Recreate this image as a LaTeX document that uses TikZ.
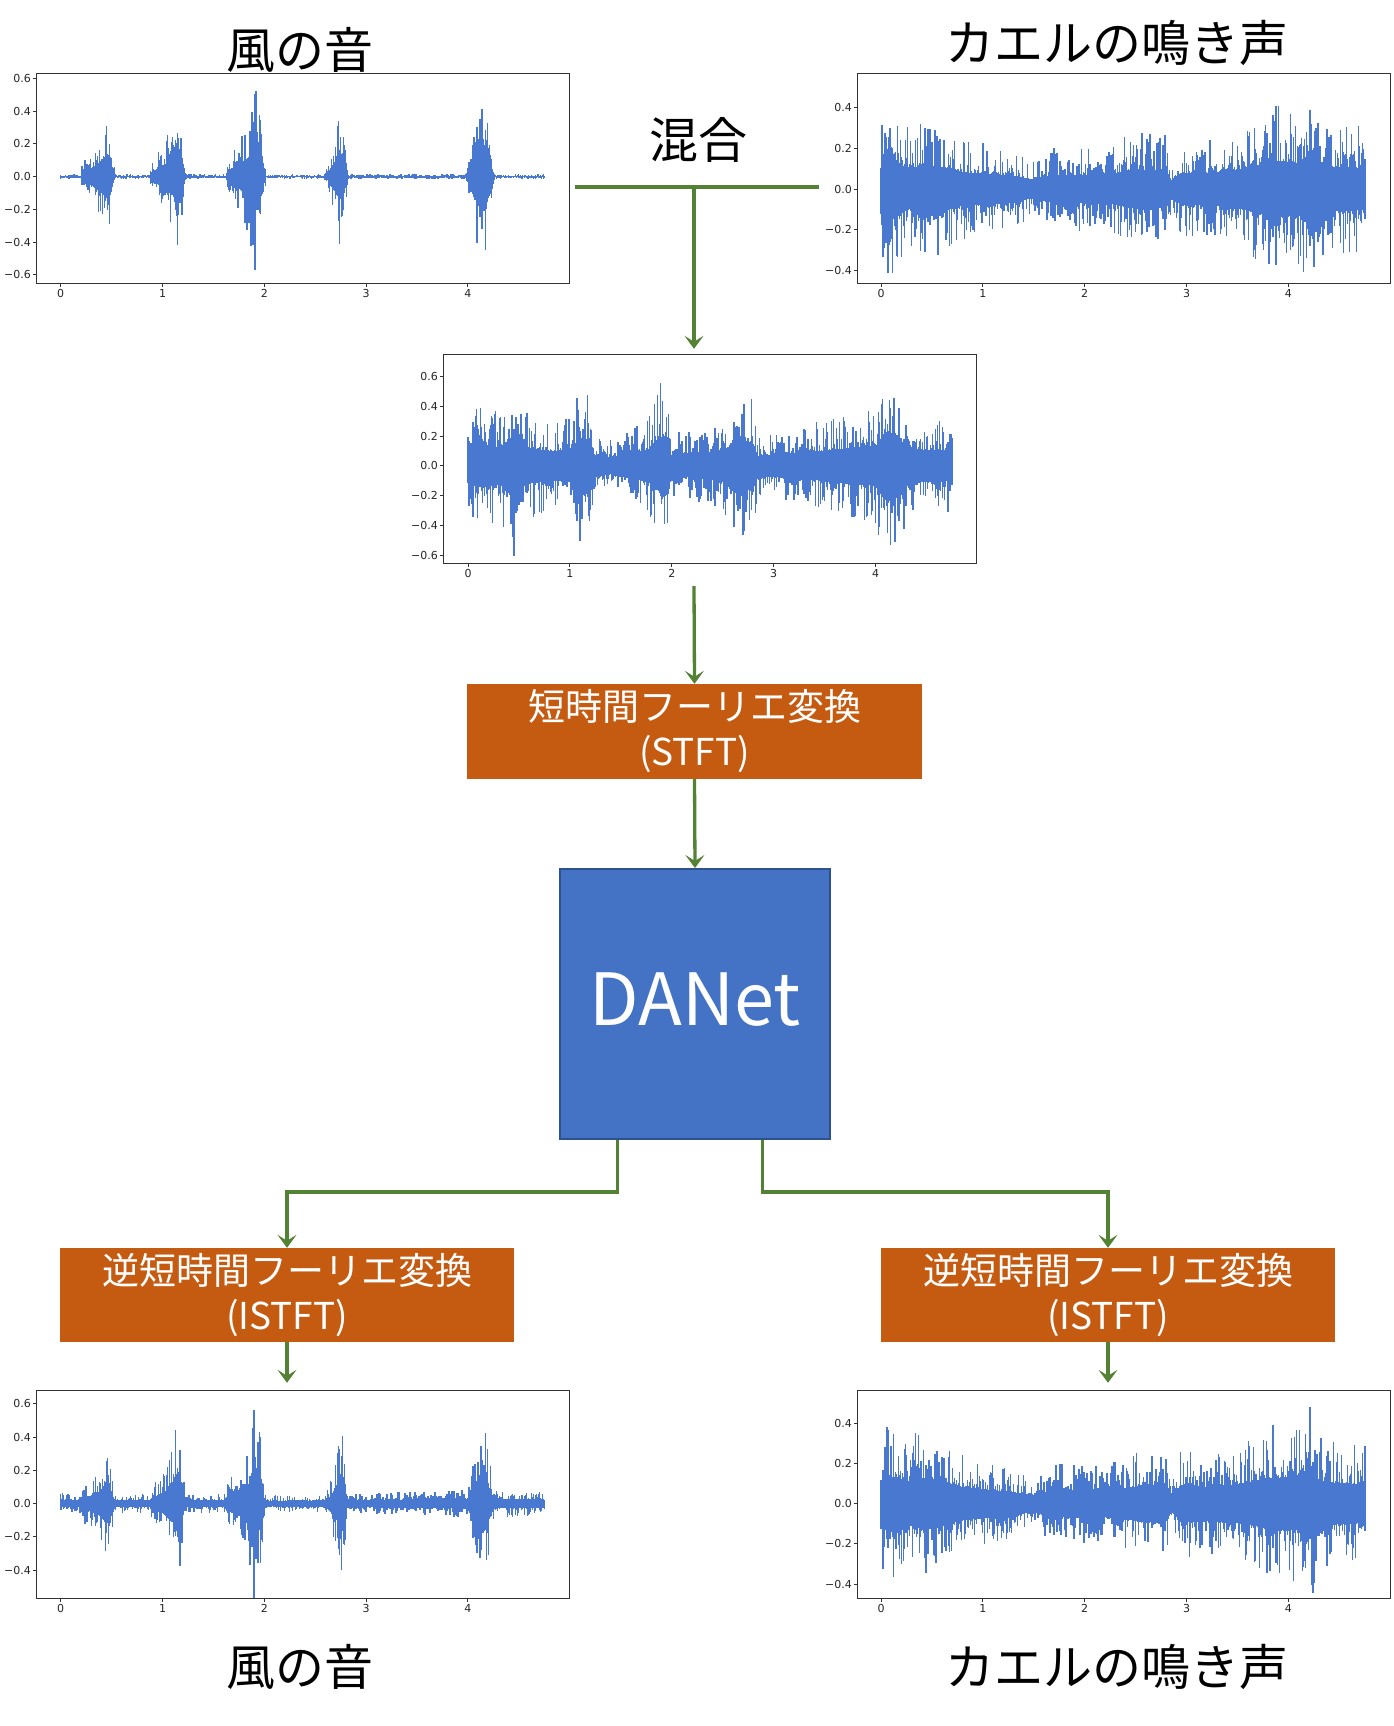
\documentclass[tikz,border=0pt]{standalone}
\usepackage{fontspec}
\newfontfamily\jp{Noto Sans CJK JP}
\newfontfamily\tickfont{DejaVu Sans}
\usetikzlibrary{arrows.meta,calc}
\definecolor{wavec}{HTML}{4878CF}
\definecolor{conncol}{HTML}{548235}
\definecolor{boxorange}{HTML}{C55A11}
\definecolor{netblue}{HTML}{4472C4}
\definecolor{netborder}{HTML}{2F528F}
\definecolor{framecol}{HTML}{333333}
\tikzset{
 wave/.style={draw=wavec,line width=1.4pt},
 frame/.style={draw=framecol,line width=1pt},
 ticklab/.style={font=\tickfont\fontsize{11}{11}\selectfont,text=black!85,inner sep=0pt},
 title/.style={font=\jp\fontsize{49}{49}\selectfont,inner sep=0pt},
 plotbox/.style={inner sep=0pt,draw=none},
 conn/.style={draw=conncol,line width=3.3pt},
 arrow/.style={conn,-{Stealth[length=13pt,width=19pt,inset=6pt,line width=1pt]}},
 procbox/.style={fill=boxorange,text=white,font=\jp\fontsize{37}{45}\selectfont,align=center,minimum width=455pt,minimum height=95pt,inner sep=0pt},
 netbox/.style={fill=netblue,draw=netborder,line width=2pt,text=white,font=\jp\fontsize{72}{72}\selectfont,minimum width=270pt,minimum height=270pt,inner sep=0pt,text depth=10pt}
}
% waveform: #1 x0, #2 y0 (pixel position of data origin), #3 px per x unit, #4 px per y unit, #5 envelope knots t/e, #6 seed
\newcommand\wavedraw[6]{%
 \pgfmathsetseed{#6}%
 \begin{scope}[shift={(#1,#2)},x=#3pt,y=#4pt]
 \foreach \tb/\eb [remember=\tb as \ta (initially 0), remember=\eb as \ea (initially 0)] in {#5}{%
   \pgfmathtruncatemacro\nn{max(1,round((\tb-\ta)*#3))}%
   \foreach \j in {1,...,\nn}{%
     \pgfmathsetmacro\wavT{\ta+\j/\nn*(\tb-\ta)}%
     \pgfmathsetmacro\wavE{1.15*(\ea+\j/\nn*(\eb-\ea))}%
     \pgfmathsetmacro\wavU{\wavE*(0.33+0.67*pow(rnd,2.5))}%
     \pgfmathsetmacro\wavL{\wavE*(0.33+0.67*pow(rnd,2.5))}%
     \draw[wave] (\wavT,-\wavL) -- (\wavT,\wavU);
   }%
 }%
 \end{scope}}
% axes: #1 left #2 top #3 right #4 bottom #5 x0 #6 y0 #7 xs #8 ys #9 yticks v/label
\newcommand\plotaxes[9]{%
 \draw[frame] (#1,#2) rectangle (#3,#4);
 \foreach \k in {0,...,4}{%
   \pgfmathsetmacro\xx{#5+\k*#7}%
   \draw[frame] (\xx,#4) -- ++(0,3.5);
   \node[ticklab,anchor=north] at (\xx,#4+6) {\k};
 }%
 \foreach \v/\vlab in {#9}{%
   \pgfmathsetmacro\yy{#6-\v*#8}%
   \draw[frame] (#1,\yy) -- ++(-3.5,0);
   \node[ticklab,anchor=east] at (#1-5,\yy) {\vlab};
 }%
}
\begin{document}
\begin{tikzpicture}[x=1pt,y=-1pt]
\useasboundingbox[fill=white] (0,0) rectangle (1393,1726);

% ---------- plot A : wind (top left)
\wavedraw{60.7}{176.6}{101.8}{163.8}{0/0.014, 0.2/0.014, 0.21/0.1, 0.3/0.13, 0.38/0.23, 0.45/0.34, 0.48/0.35, 0.52/0.09, 0.54/0.014, 0.87/0.014, 0.9/0.09, 1.0/0.16, 1.1/0.3, 1.13/0.4, 1.17/0.42, 1.22/0.05, 1.24/0.014, 1.62/0.014, 1.64/0.11, 1.75/0.18, 1.85/0.31, 1.9/0.5, 1.93/0.52, 2.0/0.09, 2.02/0.014, 2.58/0.014, 2.62/0.06, 2.7/0.26, 2.74/0.36, 2.77/0.37, 2.82/0.05, 2.84/0.014, 3.98/0.014, 4.02/0.15, 4.1/0.42, 4.13/0.49, 4.17/0.5, 4.25/0.07, 4.27/0.014, 4.75/0.014}{11}
\plotaxes{36}{74}{569}{283}{60.7}{176.6}{101.8}{163.8}{0.6/0.6, 0.4/0.4, 0.2/0.2, 0.0/0.0, -0.2/−0.2, -0.4/−0.4, -0.6/−0.6}
\node[plotbox,minimum width=570pt,minimum height=236pt] (pa) at (290,187) {};

% ---------- plot B : frog (top right)
\wavedraw{881}{189}{101.85}{203}{0/0.27, 0.03/0.36, 0.1/0.37, 0.15/0.37, 0.22/0.3, 0.3/0.25, 0.4/0.33, 0.44/0.34, 0.5/0.28, 0.6/0.29, 0.8/0.22, 1.0/0.2, 1.3/0.17, 1.5/0.12, 1.7/0.18, 2.0/0.18, 2.2/0.17, 2.45/0.25, 2.6/0.25, 2.8/0.24, 2.85/0.12, 2.95/0.21, 3.2/0.21, 3.5/0.25, 3.85/0.36, 3.9/0.36, 4.1/0.34, 4.2/0.45, 4.24/0.45, 4.3/0.3, 4.5/0.28, 4.75/0.27}{23}
\plotaxes{857}{74}{1390}{283}{881}{189}{101.85}{203}{0.4/0.4, 0.2/0.2, 0.0/0.0, -0.2/−0.2, -0.4/−0.4}
\node[plotbox,minimum width=574pt,minimum height=236pt] (pb) at (1106,187) {};

% ---------- plot C : mixture
\wavedraw{468.1}{465.9}{101.85}{149}{0/0.25, 0.05/0.36, 0.15/0.38, 0.3/0.33, 0.4/0.42, 0.45/0.6, 0.48/0.6, 0.55/0.33, 0.8/0.25, 1.0/0.29, 1.11/0.49, 1.15/0.49, 1.2/0.46, 1.24/0.2, 1.4/0.15, 1.6/0.21, 1.8/0.31, 1.9/0.51, 1.94/0.53, 2.0/0.2, 2.2/0.2, 2.5/0.28, 2.64/0.42, 2.78/0.42, 2.85/0.18, 3.2/0.21, 3.5/0.27, 3.8/0.33, 4.0/0.35, 4.1/0.6, 4.14/0.6, 4.2/0.53, 4.3/0.33, 4.5/0.28, 4.75/0.27}{37}
\plotaxes{443}{354}{976}{563}{468.1}{465.9}{101.85}{149}{0.6/0.6, 0.4/0.4, 0.2/0.2, 0.0/0.0, -0.2/−0.2, -0.4/−0.4, -0.6/−0.6}
\node[plotbox,minimum width=570pt,minimum height=237pt] (pc) at (694,467.5) {};

% ---------- plot D : separated wind
\wavedraw{60.7}{1503.6}{101.8}{166.5}{0/0.058, 0.18/0.05, 0.2/0.1, 0.3/0.12, 0.38/0.19, 0.45/0.31, 0.48/0.32, 0.52/0.07, 0.54/0.05, 0.87/0.05, 0.9/0.1, 1.0/0.15, 1.1/0.29, 1.12/0.42, 1.15/0.44, 1.22/0.07, 1.24/0.05, 1.6/0.05, 1.64/0.11, 1.75/0.19, 1.85/0.29, 1.9/0.54, 1.93/0.55, 2.0/0.09, 2.02/0.045, 2.6/0.05, 2.64/0.1, 2.7/0.24, 2.75/0.37, 2.78/0.38, 2.82/0.07, 2.84/0.05, 3.5/0.065, 4.0/0.075, 4.02/0.14, 4.1/0.37, 4.13/0.43, 4.16/0.43, 4.25/0.09, 4.28/0.075, 4.75/0.065}{53}
\plotaxes{36}{1390}{569}{1598}{60.7}{1503.6}{101.8}{166.5}{0.6/0.6, 0.4/0.4, 0.2/0.2, 0.0/0.0, -0.2/−0.2, -0.4/−0.4}
\node[plotbox,minimum width=564pt,minimum height=227pt] (pd) at (287,1496.5) {};

% ---------- plot E : separated frog
\wavedraw{881}{1503.6}{101.85}{201}{0/0.25, 0.03/0.34, 0.1/0.35, 0.15/0.35, 0.25/0.28, 0.4/0.33, 0.44/0.33, 0.6/0.28, 0.8/0.22, 1.3/0.15, 1.5/0.11, 1.7/0.18, 2.2/0.18, 2.5/0.22, 2.6/0.25, 2.8/0.22, 2.85/0.11, 2.95/0.24, 3.2/0.22, 3.5/0.25, 3.85/0.34, 3.9/0.34, 4.1/0.35, 4.2/0.46, 4.24/0.46, 4.3/0.29, 4.5/0.27, 4.75/0.25}{71}
\plotaxes{857}{1390}{1390}{1598}{881}{1503.6}{101.85}{201}{0.4/0.4, 0.2/0.2, 0.0/0.0, -0.2/−0.2, -0.4/−0.4}
\node[plotbox,minimum width=570pt,minimum height=227pt] (pe) at (1108,1496.5) {};

% ---------- titles
\node[title] (ta) at (300,50) {風の音};
\node[title] (tb) at (1117,43) {カエルの鳴き声};
\node[title] (mixlab) at (698,140) {混合};
\node[title] (td) at (300,1667) {風の音};
\node[title] (te) at (1117,1667) {カエルの鳴き声};

% ---------- processing boxes
\node[procbox] (stft) at (694.5,731.5) {短時間フーリエ変換\\(STFT)};
\node[netbox] (danet) at (695,1004) {DANet};
\node[procbox,minimum width=454pt,minimum height=94pt] (istftl) at (287,1295) {逆短時間フーリエ変換\\(ISTFT)};
\node[procbox,minimum width=454pt,minimum height=94pt] (istftr) at (1108,1295) {逆短時間フーリエ変換\\(ISTFT)};

% ---------- connectors
\coordinate (mixj) at (694,187);
\draw[conn] (pa.east) -- (pb.west);
\draw[arrow] (mixj) -- (pc.north);
\draw[arrow] (pc.south) -- (stft.north);
\draw[arrow] (stft.south) -- (danet.north);
\coordinate (dl) at ($(danet.south west)!0.215!(danet.south east)$);
\coordinate (dr) at ($(danet.south west)!0.748!(danet.south east)$);
\draw[arrow] (dl) -- ++(0,52) -| (istftl.north);
\draw[arrow] (dr) -- ++(0,52) -| (istftr.north);
\draw[arrow] (istftl.south) -- (istftl.south |- pd.north);
\draw[arrow] (istftr.south) -- (istftr.south |- pe.north);
\end{tikzpicture}
\end{document}
